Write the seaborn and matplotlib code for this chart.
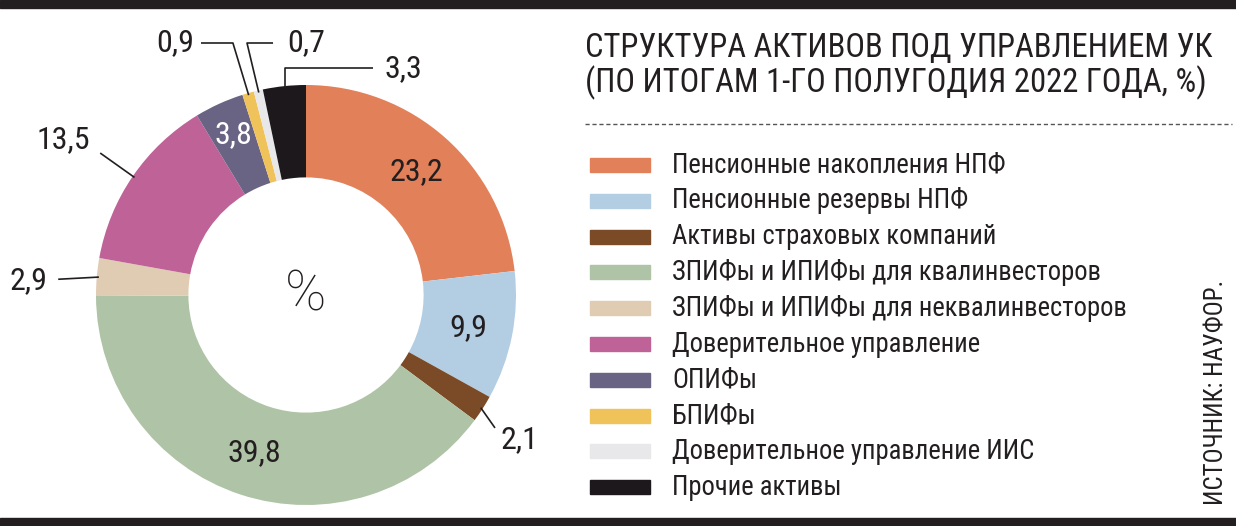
import matplotlib
matplotlib.use("Agg")
import matplotlib.pyplot as plt
import seaborn as sns
import numpy as np
from matplotlib import font_manager as fm
from matplotlib.patches import Rectangle

# =============================================================================
# DATA
# =============================================================================

categories = [
    "Пенсионные накопления НПФ",
    "Пенсионные резервы НПФ",
    "Активы страховых компаний",
    "ЗПИФы и ИПИФы для квалинвесторов",
    "ЗПИФы и ИПИФы для неквалинвесторов",
    "Доверительное управление",
    "ОПИФы",
    "БПИФы",
    "Доверительное управление ИИС",
    "Прочие активы",
]
shares = [23.2, 9.9, 2.1, 39.8, 2.9, 13.5, 3.8, 0.9, 0.7, 3.3]
value_labels = ["23,2", "9,9", "2,1", "39,8", "2,9", "13,5", "3,8", "0,9", "0,7", "3,3"]
colors = ["#E2805A", "#B3CEE3", "#7B4A26", "#AFC3A6", "#E0CBB3",
          "#BE6297", "#6A6484", "#F0C35A", "#E8E8EA", "#1C181C"]

title_lines = ["СТРУКТУРА АКТИВОВ ПОД УПРАВЛЕНИЕМ УК",
               "(ПО ИТОГАМ 1-ГО ПОЛУГОДИЯ 2022 ГОДА, %)"]
source_text = "ИСТОЧНИК: НАУФОР."

# =============================================================================
# STYLE
# =============================================================================

sns.set_style("white")
installed = {f.name for f in fm.fontManager.ttflist}
narrow = next((n for n in ["Roboto Condensed", "Liberation Sans Narrow",
                           "Open Sans Condensed", "DejaVu Sans Condensed"]
               if n in installed), None)
if narrow:
    plt.rcParams["font.family"] = [narrow, "DejaVu Sans"]
else:
    plt.rcParams["font.family"] = ["DejaVu Sans"]
    plt.rcParams["font.stretch"] = "condensed"

INK = "#231F20"
W, H = 1236, 526

fig = plt.figure(figsize=(W / 100, H / 100), dpi=100)
fig.patch.set_facecolor("white")


def fx(px):
    return px / W


def fy(py):
    return 1 - py / H


# black bars top and bottom
fig.patches.append(Rectangle((0, fy(8)), 1, 8 / H, transform=fig.transFigure,
                             color=INK, zorder=0))
fig.patches.append(Rectangle((0, 0), 1, 8 / H, transform=fig.transFigure,
                             color=INK, zorder=0))

# =============================================================================
# DONUT
# =============================================================================

cx, cy, r = 306, 295, 210
ax = fig.add_axes([fx(cx - r), fy(cy + r), 2 * r / W, 2 * r / H])
wedges, _ = ax.pie(shares, colors=sns.color_palette(colors), startangle=90,
                   counterclock=False, radius=1,
                   wedgeprops=dict(width=0.44, edgecolor="none"))
ax.set_xlim(-1, 1)
ax.set_ylim(-1, 1)
ax.set_aspect("equal")
ax.axis("off")


def wedge_point(w, rad):
    ang = np.deg2rad((w.theta1 + w.theta2) / 2)
    return rad * np.cos(ang), rad * np.sin(ang)


# thin percent sign in the hole
ax.text(0, 0, "%", ha="center", va="center", fontsize=40, fontweight="light",
        family=["Roboto", "DejaVu Sans"], color=INK)

# labels inside the ring
inside = {0: 0.79, 1: 0.79, 3: 0.79, 6: 0.84}
for i, rad in inside.items():
    x, y = wedge_point(wedges[i], rad)
    ax.text(x, y, value_labels[i], ha="center", va="center", fontsize=23,
            color="white" if i == 6 else INK)

# labels outside, with leader lines: (text xy, ha, line path before anchor)
outside = {
    2: ((0.925, -0.69), "left", [(0.90, -0.633)]),
    4: ((-1.23, 0.07), "right", [(-1.18, 0.075)]),
    5: ((-1.03, 0.74), "right", [(-0.98, 0.676)]),
    7: ((-0.53, 1.20), "right", [(-0.50, 1.20), (-0.348, 1.20)]),
    8: ((-0.09, 1.20), "left", [(-0.157, 1.20), (-0.281, 1.20)]),
    9: ((0.376, 1.08), "left", [(0.319, 1.08), (None, 1.08)]),
}
for i, (txy, ha, path) in outside.items():
    ax.text(txy[0], txy[1], value_labels[i], ha=ha, va="center", fontsize=23,
            color=INK, clip_on=False)
    ax_, ay_ = wedge_point(wedges[i], 0.99)
    pts = [(ax_ if px is None else px, py) for px, py in path] + [(ax_, ay_)]
    xs, ys = zip(*pts)
    ax.plot(xs, ys, color=INK, lw=1.2, clip_on=False, solid_capstyle="butt")

# =============================================================================
# TITLE, LEGEND, SOURCE
# =============================================================================

fig.text(fx(585), fy(57), title_lines[0], fontsize=23.5, color=INK, va="baseline")
fig.text(fx(585), fy(92), title_lines[1], fontsize=23.5, color=INK, va="baseline")
fig.lines.append(plt.Line2D([fx(585), fx(1232)], [fy(124), fy(124)],
                            transform=fig.transFigure, color="#555555",
                            lw=1, ls=(0, (3, 2))))

row0, step = 165, 35.8
for k, (lab, col) in enumerate(zip(categories, colors)):
    y = row0 + k * step
    fig.patches.append(Rectangle((fx(590), fy(y + 7)), 60 / W, 14 / H,
                                 transform=fig.transFigure, color=col))
    fig.text(fx(672), fy(y), lab, fontsize=19.2, color=INK, va="center")

fig.text(fx(1216), fy(505), source_text, rotation=90, fontsize=18, color=INK,
         ha="center", va="bottom")

fig.savefig("out.png", dpi=100)
